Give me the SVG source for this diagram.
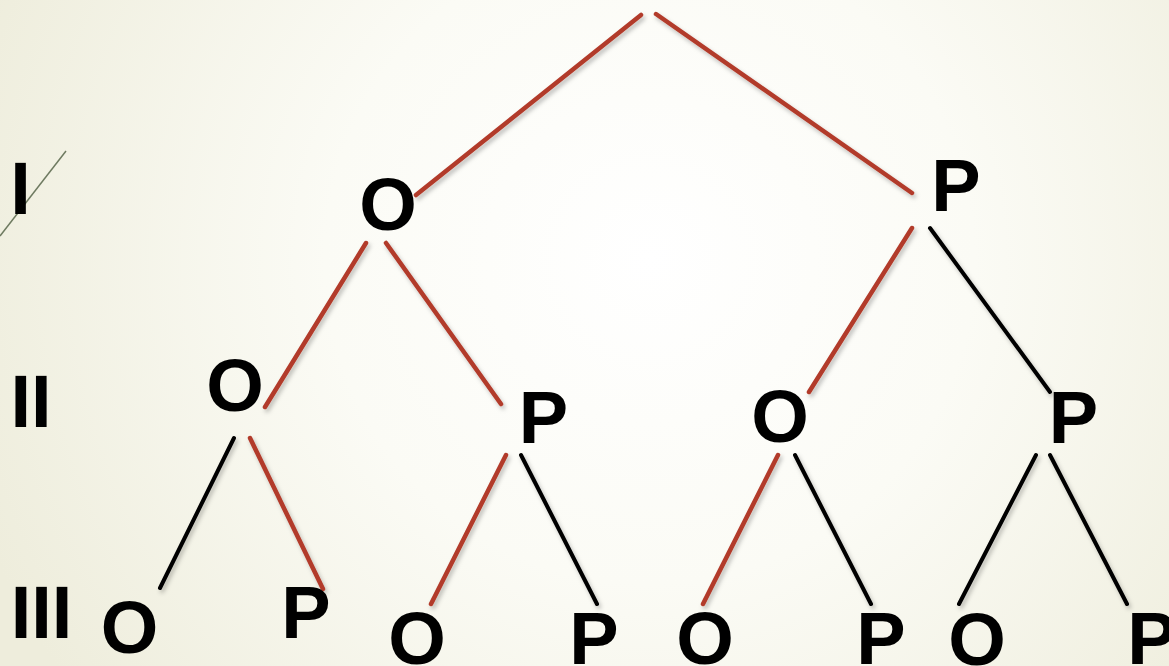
<svg xmlns="http://www.w3.org/2000/svg" width="1169" height="666" viewBox="0 0 1169 666">
<defs>
<radialGradient id="bg" cx="650" cy="260" r="720" gradientUnits="userSpaceOnUse">
<stop offset="0" stop-color="#ffffff"/>
<stop offset="0.45" stop-color="#fbfbf5"/>
<stop offset="1" stop-color="#eeeddc"/>
</radialGradient>
<filter id="sh" x="-10%" y="-10%" width="120%" height="120%">
<feDropShadow dx="2" dy="3" stdDeviation="2" flood-color="#000" flood-opacity="0.25"/>
</filter>
<style>
.lbl{font-family:"Liberation Sans",Arial,sans-serif;font-weight:bold;font-size:74px;fill:#000;text-anchor:middle}
.r{stroke:#b23a2a;stroke-width:4.5;stroke-linecap:round;fill:none}
.k{stroke:#000;stroke-width:4;stroke-linecap:round;fill:none}
</style>
</defs>
<rect width="1169" height="666" fill="url(#bg)"/>
<line x1="0" y1="236" x2="66" y2="151" stroke="#6e7a60" stroke-width="1.5"/>
<g id="levels">
<text class="lbl" x="20.5" y="214">I</text>
<text class="lbl" x="31" y="427">II</text>
<text class="lbl" x="41.5" y="638">III</text>
</g>
<g id="connectors" filter="url(#sh)">
<line class="r" x1="641" y1="15" x2="416" y2="195"/>
<line class="r" x1="656" y1="14" x2="912" y2="193"/>
<line class="r" x1="366" y1="243" x2="265" y2="407"/>
<line class="r" x1="386" y1="243" x2="501" y2="404"/>
<line class="r" x1="912" y1="228" x2="809" y2="392"/>
<line class="k" x1="930" y1="228" x2="1050" y2="392"/>
<line class="k" x1="234" y1="438" x2="160" y2="588"/>
<line class="r" x1="250" y1="438" x2="323" y2="589"/>
<line class="r" x1="506" y1="455" x2="431" y2="604"/>
<line class="k" x1="521" y1="455" x2="597" y2="604"/>
<line class="r" x1="778" y1="455" x2="703" y2="604"/>
<line class="k" x1="795" y1="455" x2="871" y2="604"/>
<line class="k" x1="1036" y1="455" x2="959" y2="604"/>
<line class="k" x1="1050" y1="455" x2="1127" y2="604"/>
</g>
<g id="n1O"><text class="lbl" x="388" y="230">O</text></g>
<g id="n1P"><text class="lbl" x="956" y="211">P</text></g>
<g id="n2O1"><text class="lbl" x="235" y="411">O</text></g>
<g id="n2P1"><text class="lbl" x="543.5" y="443">P</text></g>
<g id="n2O2"><text class="lbl" x="780" y="442">O</text></g>
<g id="n2P2"><text class="lbl" x="1073.5" y="443">P</text></g>
<g id="n3O1"><text class="lbl" x="129.5" y="653">O</text></g>
<g id="n3P1"><text class="lbl" x="306" y="638">P</text></g>
<g id="n3O2"><text class="lbl" x="417" y="664">O</text></g>
<g id="n3P2"><text class="lbl" x="594" y="664">P</text></g>
<g id="n3O3"><text class="lbl" x="705" y="664">O</text></g>
<g id="n3P3"><text class="lbl" x="881" y="664">P</text></g>
<g id="n3O4"><text class="lbl" x="977" y="665">O</text></g>
<g id="n3P4"><text class="lbl" x="1152" y="664">P</text></g>
</svg>
